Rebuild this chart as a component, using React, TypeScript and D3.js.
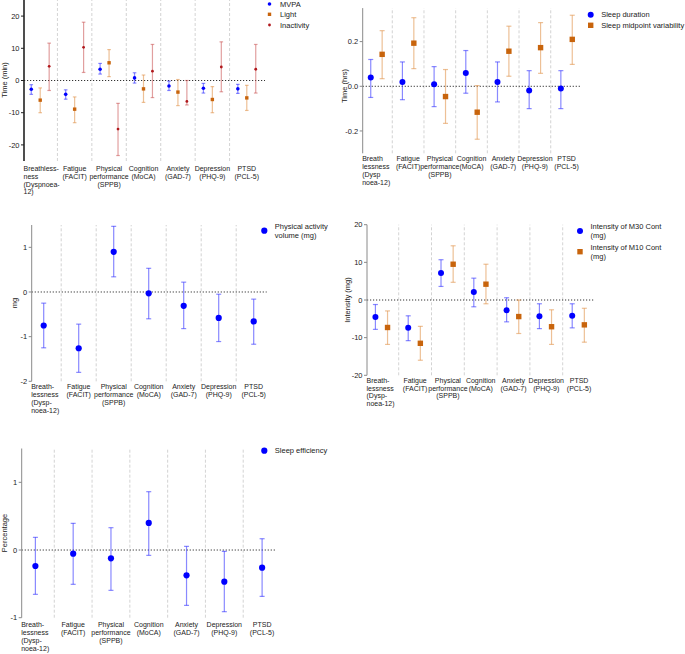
import React from 'react';
import * as d3 from 'd3';

// outcome categories (x axis)
const categories = ['Breathlessness', 'Fatigue', 'Physical performance', 'Cognition', 'Anxiety', 'Depression', 'PTSD'];

const tail = [['Fatigue', '(FACIT)'], ['Physical', 'performance', '(SPPB)'], ['Cognition', '(MoCA)'], ['Anxiety', '(GAD-7)'], ['Depression', '(PHQ-9)'], ['PTSD', '(PCL-5)']];
const labelsA = [['Breathless-', 'ness', '(Dyspnoea-', '12)'], ...tail];
const labelsB = [['Breath', 'lessness', '(Dysp', 'noea-12)'], ...tail];
const labelsC = [['Breath-', 'lessness', '(Dysp-', 'noea-12)'], ...tail];

// panel A: time (min)
const mvpa = [-2.7, -4.3, 3.5, 0.8, -1.7, -2.4, -2.6];
const mvpaLo = [-4.3, -5.8, 2.0, -0.8, -3.1, -3.9, -4.0];
const mvpaHi = [-1.3, -2.9, 5.3, 2.4, -0.2, -0.9, -1.2];
const light = [-6.1, -8.9, 5.5, -2.6, -3.6, -5.9, -5.4];
const lightLo = [-10, -13.1, 1.2, -6.8, -7.8, -10, -9.3];
const lightHi = [-2.3, -5.1, 9.6, 1.7, 0.3, -1.9, -1.5];
const inact = [4.4, 10.3, -15.1, 2.9, -6.5, 4.2, 3.5];
const inactLo = [-3.1, 2.5, -23.3, -5.3, -7.6, -3.5, -3.9];
const inactHi = [11.6, 18.1, -7.1, 11.2, 0, 12, 11.2];

// panel B: time (hrs)
const sleepDur = [0.039, 0.019, 0.009, 0.06, 0.019, -0.019, -0.01];
const sleepDurLo = [-0.05, -0.06, -0.091, -0.031, -0.07, -0.1, -0.1];
const sleepDurHi = [0.12, 0.109, 0.088, 0.16, 0.109, 0.07, 0.07];
const sleepMid = [0.143, 0.193, -0.046, -0.116, 0.157, 0.173, 0.21];
const sleepMidLo = [0.034, 0.079, -0.166, -0.237, 0.045, 0.058, 0.098];
const sleepMidHi = [0.249, 0.307, 0.075, 0.003, 0.269, 0.285, 0.318];

// panel C: mg
const paVol = [-0.75, -1.26, 0.9, -0.03, -0.31, -0.58, -0.66];
const paVolLo = [-1.25, -1.8, 0.34, -0.6, -0.82, -1.11, -1.17];
const paVolHi = [-0.25, -0.72, 1.47, 0.53, 0.22, -0.05, -0.16];

// panel D: intensity (mg)
const m30 = [-4.5, -7.4, 7.2, 2.1, -2.7, -4.3, -4.2];
const m30Lo = [-7.8, -10.8, 3.6, -1.8, -5.8, -7.6, -7.4];
const m30Hi = [-1.2, -4.2, 10.7, 5.8, 0.6, -1, -1];
const m10 = [-7.3, -11.5, 9.5, 4.2, -4.4, -7.1, -6.6];
const m10Lo = [-11.8, -16, 4.7, -1, -8.9, -11.8, -11.2];
const m10Hi = [-2.9, -7, 14.4, 9.5, 0, -2.6, -2.2];

// panel E: percentage
const sleepEff = [-0.236, -0.054, -0.123, 0.4, -0.374, -0.468, -0.261];
const sleepEffLo = [-0.655, -0.507, -0.596, -0.079, -0.818, -0.911, -0.685];
const sleepEffHi = [0.187, 0.394, 0.33, 0.862, 0.054, -0.02, 0.167];

const BLUE = '#0000ff', BLUE_BAR = 'rgba(40,40,255,0.55)';
const ORANGE = '#c8640c', ORANGE_BAR = 'rgba(225,150,80,0.6)';
const RED = '#b0181c', RED_BAR = 'rgba(200,80,80,0.55)';
const FONT = 'Liberation Sans, Arial, sans-serif';

type Series = { name: string[]; est: number[]; lo: number[]; hi: number[]; color: string; bar: string; shape: 'circle' | 'square'; size: number; offset: number; legY: number };
type Panel = {
  axisX: number; band: [number, number]; domain: [number, number]; yr: [number, number];
  ticks: number[]; fmt: (v: number) => string; zeroEnd: number; dark?: boolean;
  series: Series[]; legX: number; labels: string[][]; labY: number; labLh: number;
  yTitle: string; yTitleX: number; yTitleY: number; cap: number;
};

function Marker({ s, x, y }: { s: Series; x: number; y: number }) {
  if (s.shape === 'square') return <rect x={x - s.size / 2} y={y - s.size / 2} width={s.size} height={s.size} fill={s.color} />;
  return <circle cx={x} cy={y} r={s.size} fill={s.color} />;
}

function ForestPanel({ p }: { p: Panel }) {
  const x = d3.scaleBand().domain(categories).range(p.band).padding(0);
  const y = d3.scaleLinear().domain(p.domain).range(p.yr);
  const axisCol = p.dark ? '#222' : '#8a8a8a';
  const bw = x.bandwidth();
  return (
    <g fontFamily={FONT}>
      {categories.slice(1).map(c => (
        <line key={c} x1={x(c)} x2={x(c)} y1={y(p.domain[0])} y2={y(p.domain[1])} stroke="#c8c8c8" strokeWidth={0.8} strokeDasharray="3,2" />
      ))}
      <line x1={p.axisX} x2={p.zeroEnd} y1={y(0)} y2={y(0)} stroke="#333" strokeWidth={1} strokeDasharray="1.2,1.8" />
      <line x1={p.axisX} x2={p.axisX} y1={y(p.domain[0])} y2={y(p.domain[1])} stroke={axisCol} strokeWidth={p.dark ? 1.6 : 1} />
      {p.ticks.map(t => (
        <g key={t}>
          <line x1={p.axisX - 3} x2={p.axisX} y1={y(t)} y2={y(t)} stroke={axisCol} strokeWidth={1} />
          <text x={p.axisX - 4.5} y={y(t)} dy="0.35em" textAnchor="end" fontSize={7.5} fill="#222">{p.fmt(t)}</text>
        </g>
      ))}
      <text transform={`translate(${p.yTitleX},${p.yTitleY}) rotate(-90)`} textAnchor="middle" dy="0.35em" fontSize={7.5} fill="#222">{p.yTitle}</text>
      {p.series.map(s => categories.map((c, i) => {
        const cx = (x(c) as number) + bw * s.offset;
        return (
          <g key={s.name[0] + c}>
            <line x1={cx} x2={cx} y1={y(s.lo[i])} y2={y(s.hi[i])} stroke={s.bar} strokeWidth={1.2} />
            <line x1={cx - p.cap} x2={cx + p.cap} y1={y(s.lo[i])} y2={y(s.lo[i])} stroke={s.bar} strokeWidth={1.2} />
            <line x1={cx - p.cap} x2={cx + p.cap} y1={y(s.hi[i])} y2={y(s.hi[i])} stroke={s.bar} strokeWidth={1.2} />
            <Marker s={s} x={cx} y={y(s.est[i])} />
          </g>
        );
      }))}
      {p.labels.map((lines, i) => {
        // first label sits flush left against the axis, the rest are centred in their band
        const first = i === 0;
        const lx = first ? p.axisX - 0.5 : (x(categories[i]) as number) + bw / 2;
        return (
          <text key={i} textAnchor={first ? 'start' : 'middle'} fontSize={7} fill="#222">
            {lines.map((l, j) => (
              <tspan key={j} x={lx} y={p.labY + j * p.labLh} dy="0.35em">{l}</tspan>
            ))}
          </text>
        );
      })}
      {p.series.map(s => (
        <g key={'leg' + s.name[0]}>
          <Marker s={s} x={p.legX} y={s.legY} />
          {s.name.map((n, j) => (
            <text key={j} x={p.legX + 10.5} y={s.legY + (j - (s.name.length - 1) / 2) * 8.5} dy="0.35em" fontSize={7.5} fill="#222">{n}</text>
          ))}
        </g>
      ))}
    </g>
  );
}

const fmtInt = (v: number) => d3.format('d')(v).replace('−', '-');
const fmt1 = (v: number) => d3.format('.1f')(v).replace('−', '-');

const panels: Panel[] = [
  {
    axisX: 24, band: [23, 264], domain: [-25, 25], yr: [161, 0], ticks: [-20, -10, 0, 10, 20], fmt: fmtInt, zeroEnd: 265, dark: true,
    legX: 269.5, labels: labelsA, labY: 169, labLh: 7.6, yTitle: 'Time (min)', yTitleX: 4, yTitleY: 80, cap: 1.8,
    series: [
      { name: ['MVPA'], est: mvpa, lo: mvpaLo, hi: mvpaHi, color: BLUE, bar: BLUE_BAR, shape: 'circle', size: 1.8, offset: 0.24, legY: 4 },
      { name: ['Light'], est: light, lo: lightLo, hi: lightHi, color: ORANGE, bar: ORANGE_BAR, shape: 'square', size: 3.4, offset: 0.5, legY: 14.3 },
      { name: ['Inactivity'], est: inact, lo: inactLo, hi: inactHi, color: RED, bar: RED_BAR, shape: 'circle', size: 1.4, offset: 0.76, legY: 25 },
    ],
  },
  {
    axisX: 362.7, band: [360.6, 582.4], domain: [-0.3, 0.35], yr: [153.3, 8.1], ticks: [-0.2, 0, 0.2], fmt: fmt1, zeroEnd: 580,
    legX: 590.7, labels: labelsB, labY: 158.3, labLh: 8, yTitle: 'Time (hrs)', yTitleX: 344, yTitleY: 86, cap: 2.5,
    series: [
      { name: ['Sleep duration'], est: sleepDur, lo: sleepDurLo, hi: sleepDurHi, color: BLUE, bar: BLUE_BAR, shape: 'circle', size: 3, offset: 0.32, legY: 14.7 },
      { name: ['Sleep midpoint variability'], est: sleepMid, lo: sleepMidLo, hi: sleepMidHi, color: ORANGE, bar: ORANGE_BAR, shape: 'square', size: 5.4, offset: 0.68, legY: 25.3 },
    ],
  },
  {
    axisX: 31.7, band: [26.2, 271.2], domain: [-2, 1.5], yr: [381.3, 225], ticks: [-2, -1, 0, 1], fmt: fmtInt, zeroEnd: 266.7,
    legX: 264.3, labels: labelsC, labY: 386.3, labLh: 8, yTitle: 'mg', yTitleX: 14, yTitleY: 303, cap: 2.5,
    series: [
      { name: ['Physical activity', 'volume (mg)'], est: paVol, lo: paVolLo, hi: paVolHi, color: BLUE, bar: BLUE_BAR, shape: 'circle', size: 3.1, offset: 0.5, legY: 230.7 },
    ],
  },
  {
    axisX: 367, band: [365.9, 595.5], domain: [-20, 20], yr: [375.3, 224.7], ticks: [-20, -10, 0, 10, 20], fmt: fmtInt, zeroEnd: 594,
    legX: 580, labels: labelsC, labY: 380.7, labLh: 7.5, yTitle: 'Intensity (mg)', yTitleX: 347, yTitleY: 300, cap: 2.5,
    series: [
      { name: ['Intensity of M30 Cont', '(mg)'], est: m30, lo: m30Lo, hi: m30Hi, color: BLUE, bar: BLUE_BAR, shape: 'circle', size: 3, offset: 0.29, legY: 231 },
      { name: ['Intensity of M10 Cont', '(mg)'], est: m10, lo: m10Lo, hi: m10Hi, color: ORANGE, bar: ORANGE_BAR, shape: 'square', size: 5.4, offset: 0.66, legY: 251.7 },
    ],
  },
  {
    axisX: 21.7, band: [16.5, 281], domain: [-1, 1.5], yr: [617.7, 448.5], ticks: [-1, 0, 1], fmt: fmtInt, zeroEnd: 276.7,
    legX: 264.3, labels: labelsC, labY: 624.3, labLh: 8, yTitle: 'Percentage', yTitleX: 4, yTitleY: 533, cap: 2.5,
    series: [
      { name: ['Sleep efficiency'], est: sleepEff, lo: sleepEffLo, hi: sleepEffHi, color: BLUE, bar: BLUE_BAR, shape: 'circle', size: 3.1, offset: 0.5, legY: 450.7 },
    ],
  },
];

export default function App() {
  return (
    <svg width={685} height={654} style={{ position: 'absolute', left: 0, top: 0, background: '#fff' }}>
      {panels.map((p, i) => <ForestPanel key={i} p={p} />)}
    </svg>
  );
}
